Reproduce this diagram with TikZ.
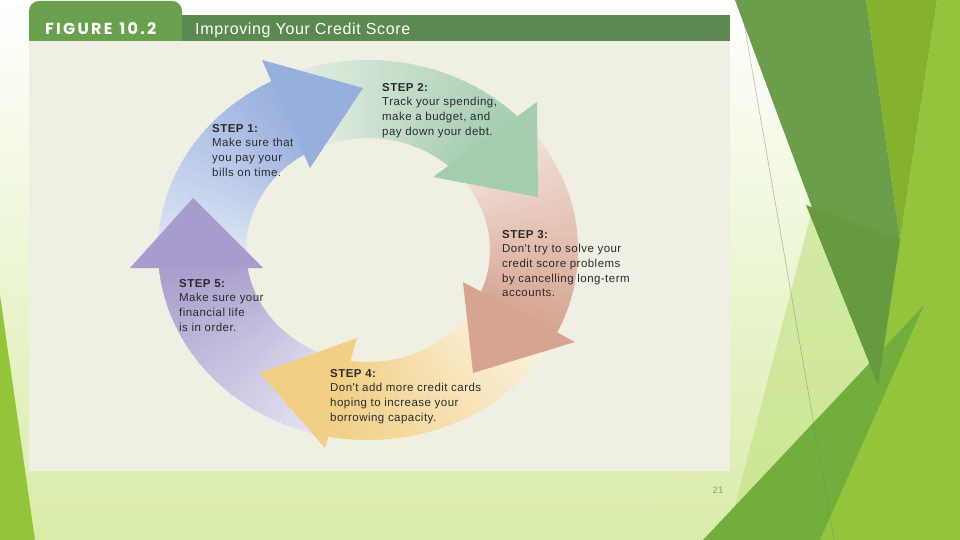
\documentclass[tikz,border=0pt]{standalone}
\usepackage{fontspec}
\setmainfont{Liberation Sans}
\newfontfamily\notefont{Liberation Sans}[LetterSpace=4]
\newfontfamily\tabfont{Poppins}[LetterSpace=14]

% slide and panel colours
\definecolor{slidegreen}{HTML}{D9ECA8}
\definecolor{leafgreen}{HTML}{93C43A}
\definecolor{palefacet}{HTML}{C3E183}
\definecolor{darkfacet}{HTML}{6A9E4A}
\definecolor{deepfacet}{HTML}{669A40}
\definecolor{midlime}{HTML}{84B22F}
\definecolor{lime}{HTML}{93C43B}
\definecolor{grassgreen}{HTML}{71AE3B}
\definecolor{tabgreen}{HTML}{68A04E}
\definecolor{bargreen}{HTML}{5A8A50}
\definecolor{panelbg}{HTML}{F0EFE4}
\definecolor{notetext}{HTML}{2B2B2B}
\definecolor{pagegrey}{HTML}{8CA866}

% arrow colours, tail and head
\definecolor{bluelo}{HTML}{E0E8F5}
\definecolor{bluehi}{HTML}{97AFDD}
\definecolor{greenlo}{HTML}{E5EEE2}
\definecolor{greenhi}{HTML}{A4CDB0}
\definecolor{salmonlo}{HTML}{F3E3DB}
\definecolor{salmonhi}{HTML}{D6A491}
\definecolor{yellowlo}{HTML}{FBF2DF}
\definecolor{yellowhi}{HTML}{F1CF84}
\definecolor{purplelo}{HTML}{E6E3F2}
\definecolor{purplehi}{HTML}{A79CCB}

% one shaded piece of the ring: start angle, end angle, tail colour, head colour
\newcommand{\ringband}[4]{%
  \foreach \i in {0,...,39} {
    \pgfmathsetmacro{\ta}{#1+(#2-#1)*\i/40}
    \pgfmathsetmacro{\tb}{#1+(#2-#1)*(\i+1.4)/40}
    \pgfmathtruncatemacro{\mix}{100*\i/39}
    \fill[#4!\mix!#3] (\ta:210pt and 190pt)
      arc[start angle=\ta, end angle=\tb, x radius=210pt, y radius=190pt]
      -- (\tb:122pt and 112pt)
      arc[start angle=\tb, end angle=\ta, x radius=122pt, y radius=112pt] -- cycle;
  }}

\tikzset{
  stepnote/.style={anchor=north west, align=left, inner sep=0pt, text=notetext,
    font=\notefont\fontsize{11.5}{14.6}\selectfont},
}

\begin{document}
\begin{tikzpicture}[x=1pt, y=-1pt]
  \useasboundingbox (0,0) rectangle (960,540);

  % Slide background
  \shade[top color=white, bottom color=slidegreen] (0,0) rectangle (960,540);
  \fill[leafgreen] (0,295) -- (35,540) -- (0,540) -- cycle;

  % Facets on the right
  \fill[palefacet, opacity=0.6] (867,0) -- (726,540) -- (960,540) -- (960,0) -- cycle;
  \fill[lime] (937,0) -- (960,0) -- (960,540) -- (862,540) -- (878,385) -- (900,240) -- cycle;
  \fill[midlime] (866,0) -- (937,0) -- (900,240) -- cycle;
  \fill[grassgreen] (703,540) -- (960,267) -- (960,540) -- cycle;
  \fill[lime] (820,540) -- (960,224) -- (960,540) -- cycle;
  \fill[darkfacet] (735,0) -- (866,0) -- (900,240) -- (878,385) -- cycle;
  \fill[deepfacet] (806,205) -- (900,240) -- (878,385) -- cycle;
  \draw[gray, opacity=0.7, line width=0.4pt] (740,0) -- (834,540);
  \draw[white!85!gray, opacity=0.6, line width=0.4pt] (588,540) -- (700,468);

  % Figure panel
  \fill[panelbg] (29,41) rectangle (730,471);
  \fill[bargreen] (182,15) rectangle (730,41);
  \fill[tabgreen] (29,41) -- (29,11) arc[start angle=180, end angle=90, radius=10pt]
    -- (172,1) arc[start angle=90, end angle=0, radius=10pt] -- (182,41) -- cycle;
  \node[anchor=base west, inner sep=0pt, text=white, font=\tabfont\bfseries\fontsize{16}{19}\selectfont]
    (fighead) at (45,34.5) {FIGURE\hspace{7pt}10.2};
  \node[anchor=base west, inner sep=0pt, text=white, font=\notefont\fontsize{16}{19}\selectfont]
    (figtitle) at (195,35) {Improving Your Credit Score};

  % Ring pieces, clockwise
  \begin{scope}[shift={(368,250)}]
    \ringband{183.6}{115.5}{bluelo}{bluehi}
    \ringband{115.5}{42.8}{greenlo}{greenhi}
    \ringband{42.8}{-27.3}{salmonlo}{salmonhi}
    \ringband{-27.3}{-102.3}{yellowlo}{yellowhi}
    \ringband{257.7}{183.6}{purplelo}{purplehi}
  \end{scope}

  % Arrow heads
  \fill[bluehi] (262,60) -- (363,88) -- (310,168) -- cycle;
  \fill[greenhi] (537,102) -- (538,197) -- (433,177) -- cycle;
  \fill[salmonhi] (463,282) -- (575,342) -- (473,373) -- cycle;
  \fill[yellowhi] (357,338) -- (325,448) -- (260,373) -- cycle;
  \fill[purplehi] (130,268) -- (193,198) -- (263,268) -- cycle;

  % Steps
  \node[stepnote] (step1) at (212,124) {\textbf{STEP 1:}\\Make sure that\\you pay your\\bills on time.};
  \node[stepnote] (step2) at (382,83) {\textbf{STEP 2:}\\Track your spending,\\make a budget, and\\pay down your debt.};
  \node[stepnote] (step3) at (502,230) {\textbf{STEP 3:}\\Don't try to solve your\\credit score problems\\by cancelling long-term\\accounts.};
  \node[stepnote] (step4) at (330,369) {\textbf{STEP 4:}\\Don't add more credit cards\\hoping to increase your\\borrowing capacity.};
  \node[stepnote] (step5) at (179,279) {\textbf{STEP 5:}\\Make sure your\\financial life\\is in order.};

  % Page number
  \node[text=pagegrey, font=\fontsize{9.5}{11}\selectfont, inner sep=0pt] (pagenum) at (718,490) {21};
\end{tikzpicture}
\end{document}
